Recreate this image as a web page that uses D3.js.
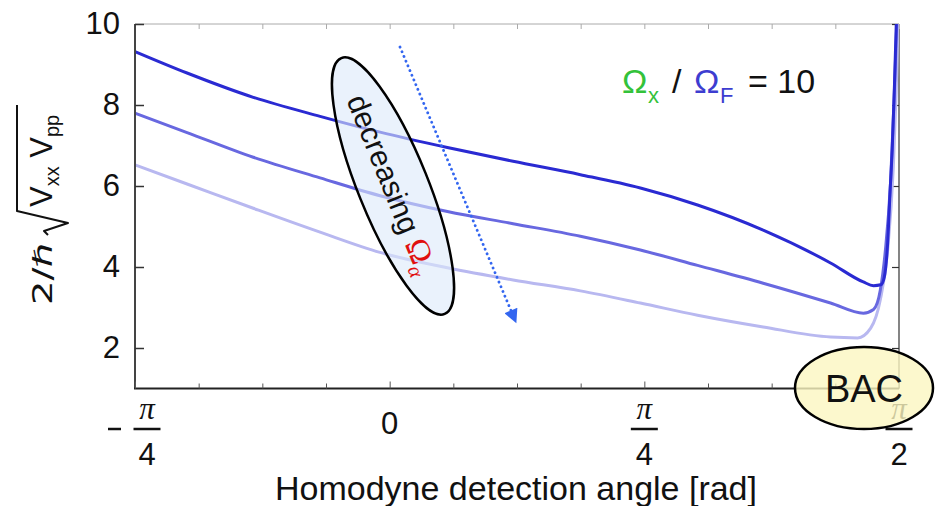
<!DOCTYPE html>
<html><head><meta charset="utf-8">
<script src="https://cdn.jsdelivr.net/npm/d3@7"></script>
<style>
body{margin:0;background:#fff}
svg{display:block;font-family:"Liberation Sans",Arial,sans-serif}
</style>
</head><body>
<svg id="c" width="936" height="506"></svg>
<script>
// angles in degrees (axis labelled in fractions of pi)
const anglesA = [-45, -35.8, -24.1, -12.3, -1.7, 10.2, 21.8, 33.7, 44.3, 54.4, 66.0, 77.9, 83.7, 85.5, 86.8, 87.4, 88.0, 88.4, 88.8, 89.2, 89.6];
const valuesA = [9.32, 8.79, 8.19, 7.72, 7.33, 6.95, 6.61, 6.28, 5.95, 5.53, 4.91, 4.10, 3.63, 3.54, 3.56, 3.75, 4.6, 5.8, 6.9, 8.5, 10.4];
const anglesB = [-45, -35.8, -24.1, -12.3, -1.7, 10.2, 21.8, 33.7, 44.3, 54.4, 66.0, 77.9, 83.7, 85.5, 86.7, 87.6, 88.5, 89.1, 89.7];
const valuesB = [7.80, 7.32, 6.71, 6.20, 5.76, 5.37, 5.07, 4.76, 4.42, 4.04, 3.60, 3.11, 2.86, 2.95, 3.43, 4.42, 6.07, 8.0, 10.4];
const anglesC = [-45, -35.8, -24.1, -12.3, -1.7, 10.2, 21.8, 33.7, 44.3, 54.4, 66.0, 77.9, 82.7, 85.0, 86.7, 88.0, 89.0, 89.5, 89.9];
const valuesC = [6.52, 6.05, 5.45, 4.86, 4.36, 3.98, 3.68, 3.41, 3.11, 2.81, 2.52, 2.27, 2.25, 2.49, 3.19, 4.42, 6.47, 8.3, 10.4];
const seriesColors = ["#2a2ad2", "#6868e0", "#b8b8f0"];

const xMajorTicks = [-45, 0, 45, 90];
const xTickLabels = ["−π/4", "0", "π/4", "π/2"];
const xMinorTicks = d3.range(-45, 90.01, 11.25);
const yTicks = [2, 4, 6, 8, 10];
const yTickLabels = ["2", "4", "6", "8", "10"];

const svg = d3.select("#c");
const x = d3.scaleLinear().domain([-45, 90]).range([135, 899]);
const y = d3.scaleLinear().domain([1, 10]).range([388.5, 24]);

svg.append("defs").append("clipPath").attr("id","plot")
  .append("rect").attr("x",135).attr("y",24).attr("width",764).attr("height",364.5);

// frame lines
svg.append("line").attr("x1",135).attr("x2",899).attr("y1",24).attr("y2",24).attr("stroke","#aaa").attr("stroke-width",1);
svg.append("line").attr("x1",899).attr("x2",899).attr("y1",24).attr("y2",388.5).attr("stroke","#333").attr("stroke-width",1.2);

// top axis (ticks only)
const gTop = svg.append("g").attr("transform","translate(0,24)")
  .call(d3.axisTop(x).tickValues(xMinorTicks).tickSize(-5).tickSizeOuter(0).tickFormat(""));
gTop.select(".domain").remove();
gTop.selectAll("line").attr("stroke","#aaa");

// right axis ticks
const gRight = svg.append("g").attr("transform","translate(899,0)")
  .call(d3.axisRight(y).tickValues(yTicks).tickSize(-7).tickSizeOuter(0).tickFormat(""));
gRight.select(".domain").remove();
gRight.selectAll("line").attr("stroke","#333").attr("stroke-width",1.2);

// curves
const line = d3.line().x(d=>x(d[0])).y(d=>y(d[1])).curve(d3.curveMonotoneX);
const series = [d3.zip(anglesC, valuesC), d3.zip(anglesB, valuesB), d3.zip(anglesA, valuesA)];
const cols = [seriesColors[2], seriesColors[1], seriesColors[0]];
const gC = svg.append("g").attr("clip-path","url(#plot)");
series.forEach((s,i)=>{
  gC.append("path").attr("d", line(s)).attr("fill","none")
    .attr("stroke", cols[i]).attr("stroke-width", 3).attr("stroke-linejoin","round");
});

// left axis
const gLeft = svg.append("g").attr("transform","translate(135,0)")
  .call(d3.axisLeft(y).tickValues(yTicks).tickSize(-9).tickSizeOuter(0).tickPadding(15)
    .tickFormat((d,i)=>yTickLabels[i]));
gLeft.select(".domain").attr("stroke","#444").attr("stroke-width",2).attr("d","M0,24V388.5");
gLeft.selectAll("line").attr("stroke","#333").attr("stroke-width",1.5);
gLeft.selectAll("text").attr("font-size",31).attr("fill","#111").attr("font-family","Liberation Sans, Arial, sans-serif");

// bottom axis
const gBot = svg.append("g").attr("transform","translate(0,388.5)")
  .call(d3.axisBottom(x).tickValues(xMinorTicks).tickSize(-5).tickSizeOuter(0).tickFormat(""));
gBot.select(".domain").attr("stroke","#222").attr("stroke-width",2.2).attr("d","M134,0H899");
gBot.selectAll(".tick line").attr("stroke","#555").attr("stroke-width",1)
  .attr("y2", d => xMajorTicks.includes(d) ? -7 : -5);

// x tick labels as fractions
xMajorTicks.forEach((v,i)=>{
  const lab = xTickLabels[i];
  const cx = x(v);
  const g = svg.append("g").attr("fill","#111");
  if (!lab.includes("/")) {
    g.append("text").attr("x",cx).attr("y",434).attr("text-anchor","middle").attr("font-size",31).text(lab);
    return;
  }
  let neg = lab.startsWith("−");
  const body = neg ? lab.slice(1) : lab;
  const [num, den] = body.split("/");
  const fx = neg ? cx + 12 : cx;
  if (neg) g.append("line").attr("x1",cx-27).attr("x2",cx-14).attr("y1",429).attr("y2",429).attr("stroke","#111").attr("stroke-width",2.5);
  g.append("text").attr("x",fx).attr("y",419).attr("text-anchor","middle")
    .attr("font-size",31).attr("font-style","italic").attr("font-family","Liberation Serif, serif").text(num);
  g.append("line").attr("x1",fx-13.5).attr("x2",fx+13.5).attr("y1",429).attr("y2",429).attr("stroke","#111").attr("stroke-width",2.5);
  g.append("text").attr("x",fx).attr("y",465).attr("text-anchor","middle").attr("font-size",31).text(den);
});

// x axis title
svg.append("text").attr("x",516).attr("y",500).attr("text-anchor","middle")
  .attr("font-size",34).attr("fill","#111").text("Homodyne detection angle [rad]");

// y axis title
const gy = svg.append("g").attr("transform","translate(52,305) rotate(-90)").attr("fill","#111");
gy.append("text").attr("x",0).attr("y",0).attr("font-size",26).attr("font-family","DejaVu Sans, sans-serif")
  .attr("textLength",62).attr("lengthAdjust","spacingAndGlyphs").text("2/ℏ");
gy.append("path").attr("d","M70,-4 L74,-8 L82,16 L94,-35 L200,-35").attr("fill","none")
  .attr("stroke","#111").attr("stroke-width",2).attr("stroke-linejoin","round");
const tv = gy.append("text").attr("x",98).attr("y",0).attr("font-size",31);
tv.append("tspan").text("V");
tv.append("tspan").attr("font-size",20).attr("dy",7).text("xx");
tv.append("tspan").attr("dy",-7).text(" V");
tv.append("tspan").attr("font-size",20).attr("dy",7).text("pp");

// ratio label
const tr = svg.append("text").attr("y",93).attr("font-size",34).attr("fill","#111");
tr.append("tspan").attr("x",622).attr("fill","#33c23a").text("Ω");
tr.append("tspan").attr("x",648).attr("fill","#33c23a").attr("font-size",22).attr("dy",10).text("x");
tr.append("tspan").attr("x",672).attr("dy",-10).text("/");
tr.append("tspan").attr("x",694).attr("fill","#3d3dd0").text("Ω");
tr.append("tspan").attr("x",720).attr("fill","#3d3dd0").attr("font-size",22).attr("dy",10).text("F");
tr.append("tspan").attr("x",748).attr("dy",-10).text("= 10");

// decreasing ellipse
const ge = svg.append("g").attr("transform","translate(393,186) rotate(68)");
ge.append("ellipse").attr("rx",138).attr("ry",35).attr("fill","#dceafa").attr("fill-opacity",0.6)
  .attr("stroke","#000").attr("stroke-width",2.5);
const td = ge.append("text").attr("x",-2).attr("y",11).attr("text-anchor","middle").attr("font-size",30).attr("fill","#111");
td.append("tspan").text("decreasing ");
td.append("tspan").attr("fill","#e01010").attr("font-family","Liberation Serif, serif").attr("font-size",33).text("Ω");
td.append("tspan").attr("fill","#e01010").attr("font-family","Liberation Serif, serif").attr("font-style","italic").attr("font-size",21).attr("dy",7).text("α");

// dotted arrow
svg.append("defs").append("marker").attr("id","ah").attr("viewBox","0 0 10 10").attr("refX",2).attr("refY",5)
  .attr("markerWidth",16).attr("markerHeight",14).attr("markerUnits","userSpaceOnUse").attr("orient","auto")
  .append("path").attr("d","M0,0 L10,5 L0,10 Z").attr("fill","#3366f0");
svg.append("line").attr("x1",400).attr("y1",47).attr("x2",512).attr("y2",313)
  .attr("stroke","#3366f0").attr("stroke-width",2.8).attr("stroke-dasharray","0.1,5").attr("stroke-linecap","round")
  .attr("marker-end","url(#ah)");

// BAC ellipse
svg.append("ellipse").attr("cx",864).attr("cy",388).attr("rx",69).attr("ry",41)
  .attr("fill","#fbf6c0").attr("fill-opacity",0.8).attr("stroke","#000").attr("stroke-width",2.5);
svg.append("text").attr("x",864).attr("y",402).attr("text-anchor","middle").attr("font-size",38).attr("fill","#111").text("BAC");
</script>
</body></html>
